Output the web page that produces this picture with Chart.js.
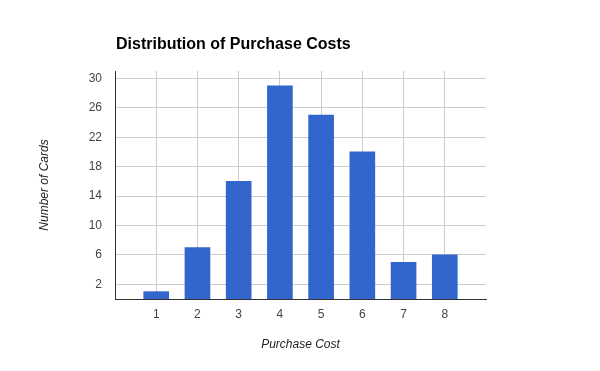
<!DOCTYPE html>
<html>
<head>
<meta charset="utf-8">
<script src="https://cdn.jsdelivr.net/npm/chart.js@4"></script>
<style>
  html, body { margin: 0; padding: 0; background: #fff; }
  #wrap { width: 600px; height: 371px; }
</style>
</head>
<body>
<div id="wrap"><canvas id="myChart" width="600" height="371"></canvas></div>
<script>
// data
const purchaseCosts = [1, 2, 3, 4, 5, 6, 7, 8];
const cardCounts = [1, 7, 16, 29, 25, 20, 5, 6];
const yTickValues = [2, 6, 10, 14, 18, 22, 26, 30];

const chartTitle = 'Distribution of Purchase Costs';
const xTitle = 'Purchase Cost';
const yTitle = 'Number of Cards';

// titles drawn by hand so they sit where the original has them
const textPlugin = {
    id: 'texts',
    afterDraw(chart) {
        const ctx = chart.ctx;
        const area = chart.chartArea;
        ctx.save();
        ctx.fillStyle = '#000';
        ctx.font = 'bold 16px "Liberation Sans", Arial, sans-serif';
        ctx.textAlign = 'left';
        ctx.textBaseline = 'middle';
        ctx.fillText(chartTitle, 116, 45);

        ctx.fillStyle = '#222';
        ctx.font = 'italic 12px "Liberation Sans", Arial, sans-serif';
        ctx.textAlign = 'center';
        ctx.fillText(xTitle, (area.left + area.right) / 2, 345);

        ctx.translate(45, (area.top + area.bottom) / 2);
        ctx.rotate(-Math.PI / 2);
        ctx.fillText(yTitle, 0, 0);
        ctx.restore();
    }
};

const ctx = document.getElementById('myChart').getContext('2d');
new Chart(ctx, {
    type: 'bar',
    data: {
        datasets: [{
            data: purchaseCosts.map((c, i) => ({ x: c, y: cardCounts[i] })),
            backgroundColor: '#3366CC',
            borderWidth: 0,
            barThickness: 25
        }]
    },
    options: {
        responsive: false,
        animation: false,
        layout: { padding: { top: 71, right: 114, left: 0, bottom: 0 } },
        plugins: {
            legend: { display: false },
            tooltip: { enabled: false }
        },
        scales: {
            x: {
                type: 'linear',
                min: 0,
                max: 9,
                offset: false,
                afterBuildTicks: (scale) => {
                    scale.ticks = purchaseCosts.map(v => ({ value: v }));
                },
                afterFit: (scale) => { scale.height = 72; },
                grid: { color: '#cccccc', drawTicks: false, offset: false },
                border: { display: true, color: '#333333', width: 1 },
                ticks: {
                    color: '#444444',
                    padding: 8,
                    font: { family: '"Liberation Sans", Arial, sans-serif', size: 12 },
                    maxRotation: 0
                }
            },
            y: {
                min: 0,
                max: 31,
                afterBuildTicks: (scale) => {
                    scale.ticks = yTickValues.map(v => ({ value: v }));
                },
                afterFit: (scale) => { scale.width = 115; },
                grid: { color: '#cccccc', drawTicks: false },
                border: { display: true, color: '#333333', width: 1 },
                ticks: {
                    color: '#444444',
                    padding: 13,
                    font: { family: '"Liberation Sans", Arial, sans-serif', size: 12 }
                }
            }
        }
    },
    plugins: [textPlugin]
});
</script>
</body>
</html>
